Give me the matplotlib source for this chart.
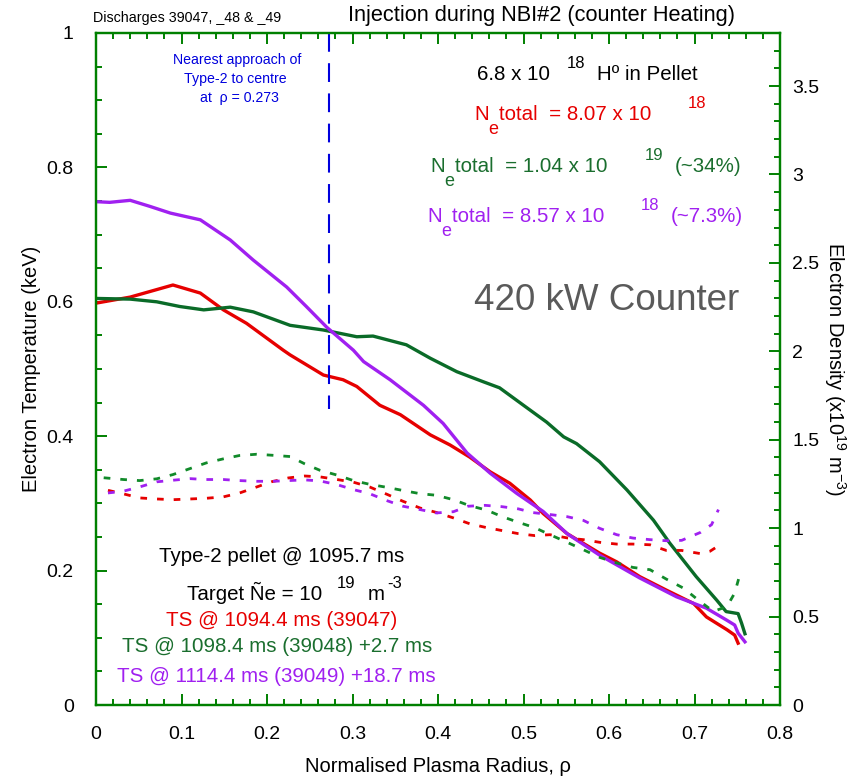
import numpy as np
import matplotlib
matplotlib.use("Agg")
import matplotlib.pyplot as plt
from matplotlib.ticker import MultipleLocator

plt.rcParams['font.family'] = ['Liberation Sans', 'DejaVu Sans']
plt.rcParams['mathtext.fontset'] = 'custom'
plt.rcParams['mathtext.rm'] = 'Liberation Sans'

# Electron temperature profiles (keV) vs normalised radius
rho_t_047 = [0.000, 0.040, 0.090, 0.122, 0.149, 0.176, 0.219, 0.227, 0.266, 0.289, 0.305,
             0.332, 0.356, 0.391, 0.414, 0.437, 0.461, 0.484, 0.508, 0.523, 0.551, 0.589,
             0.609, 0.636, 0.667, 0.699, 0.714, 0.738, 0.747, 0.751]
te_047 = [0.598, 0.607, 0.625, 0.613, 0.588, 0.568, 0.528, 0.521, 0.491, 0.484, 0.474,
          0.446, 0.432, 0.402, 0.387, 0.369, 0.347, 0.330, 0.305, 0.285, 0.255, 0.226,
          0.213, 0.191, 0.171, 0.151, 0.131, 0.112, 0.104, 0.092]

rho_t_048 = [0.000, 0.040, 0.071, 0.098, 0.126, 0.157, 0.184, 0.227, 0.266, 0.305, 0.324,
             0.363, 0.391, 0.422, 0.453, 0.472, 0.500, 0.527, 0.547, 0.562, 0.589, 0.621,
             0.652, 0.671, 0.702, 0.726, 0.737, 0.751, 0.755, 0.759]
te_048 = [0.605, 0.604, 0.600, 0.593, 0.588, 0.592, 0.585, 0.565, 0.558, 0.548, 0.549,
          0.536, 0.516, 0.496, 0.481, 0.472, 0.446, 0.421, 0.399, 0.389, 0.362, 0.320,
          0.275, 0.241, 0.191, 0.156, 0.139, 0.136, 0.122, 0.106]

rho_t_049 = [0.000, 0.016, 0.040, 0.063, 0.087, 0.122, 0.157, 0.184, 0.223, 0.246, 0.270,
             0.301, 0.313, 0.344, 0.383, 0.406, 0.434, 0.461, 0.492, 0.523, 0.551, 0.589,
             0.636, 0.679, 0.714, 0.738, 0.747, 0.751, 0.759]
te_049 = [0.749, 0.748, 0.751, 0.742, 0.732, 0.722, 0.692, 0.662, 0.622, 0.593, 0.562,
          0.528, 0.511, 0.484, 0.446, 0.419, 0.375, 0.345, 0.315, 0.288, 0.255, 0.223,
          0.189, 0.161, 0.144, 0.126, 0.119, 0.107, 0.094]

# Electron density profiles (x1e19 m^-3)
rho_n_047 = [0.014, 0.032, 0.051, 0.071, 0.090, 0.110, 0.129, 0.149, 0.168, 0.188, 0.205,
             0.225, 0.244, 0.262, 0.282, 0.301, 0.320, 0.340, 0.359, 0.379, 0.398, 0.418,
             0.437, 0.455, 0.472, 0.494, 0.513, 0.531, 0.552, 0.570, 0.589, 0.609, 0.628,
             0.648, 0.667, 0.685, 0.707, 0.718, 0.726]
ne_047 = [1.214, 1.194, 1.171, 1.165, 1.161, 1.165, 1.169, 1.177, 1.199, 1.233, 1.262,
          1.284, 1.295, 1.290, 1.275, 1.260, 1.233, 1.192, 1.152, 1.114, 1.089, 1.058,
          1.025, 1.005, 0.989, 0.969, 0.958, 0.963, 0.944, 0.935, 0.920, 0.910, 0.910,
          0.906, 0.874, 0.874, 0.856, 0.869, 0.894]

rho_n_048 = [0.009, 0.032, 0.051, 0.071, 0.090, 0.110, 0.129, 0.149, 0.168, 0.188, 0.207,
             0.227, 0.244, 0.262, 0.282, 0.301, 0.320, 0.340, 0.359, 0.379, 0.398, 0.418,
             0.437, 0.457, 0.474, 0.494, 0.513, 0.531, 0.551, 0.570, 0.589, 0.609, 0.628,
             0.648, 0.667, 0.687, 0.704, 0.722, 0.738, 0.747, 0.753]
ne_048 = [1.285, 1.275, 1.269, 1.279, 1.303, 1.337, 1.369, 1.392, 1.411, 1.418, 1.412,
          1.405, 1.364, 1.327, 1.300, 1.269, 1.248, 1.231, 1.213, 1.195, 1.186, 1.161,
          1.127, 1.102, 1.067, 1.033, 1.003, 0.963, 0.920, 0.878, 0.835, 0.803, 0.778,
          0.765, 0.712, 0.661, 0.595, 0.529, 0.557, 0.633, 0.737]

rho_n_049 = [0.014, 0.032, 0.051, 0.071, 0.090, 0.110, 0.129, 0.149, 0.168, 0.188, 0.207,
             0.225, 0.244, 0.262, 0.282, 0.301, 0.320, 0.340, 0.359, 0.379, 0.398, 0.418,
             0.435, 0.455, 0.474, 0.494, 0.511, 0.531, 0.551, 0.570, 0.589, 0.609, 0.628,
             0.648, 0.667, 0.685, 0.707, 0.720, 0.728]
ne_049 = [1.199, 1.209, 1.233, 1.262, 1.271, 1.280, 1.275, 1.275, 1.269, 1.265, 1.265,
          1.269, 1.273, 1.267, 1.246, 1.218, 1.195, 1.156, 1.124, 1.105, 1.086, 1.093,
          1.124, 1.129, 1.122, 1.109, 1.088, 1.077, 1.065, 1.044, 0.999, 0.963, 0.944,
          0.935, 0.929, 0.931, 0.976, 1.020, 1.105]

rho_pellet = 0.273
te_pellet_end = 0.44

RED = '#e60000'
GREEN = '#0a6b28'
GREEN_D = '#118a2a'
GREEN_T = '#1a6e2e'
PURPLE = '#a020f0'
BLUE = '#0000dd'
AXIS = '#008000'

W, H = 862, 779
fig = plt.figure(figsize=(W / 100, H / 100), dpi=100)
ax = fig.add_axes([96 / W, 1 - 705 / H, 684 / W, 672 / H])
ax2 = ax.twinx()

# temperatures: solid, left axis
ax.plot(rho_t_047, te_047, color=RED, lw=2.4)
ax.plot(rho_t_048, te_048, color=GREEN, lw=2.4)
ax.plot(rho_t_049, te_049, color=PURPLE, lw=2.4)
ax.plot([rho_pellet, rho_pellet], [1.0, te_pellet_end], color=BLUE, lw=1.5, dashes=(9, 5.5))

# densities: dashed, right axis
for r, n, c in [(rho_n_047, ne_047, RED), (rho_n_048, ne_048, GREEN_D), (rho_n_049, ne_049, PURPLE)]:
    ax2.plot(r, n, color=c, lw=2.0, dashes=(2.4, 3.6))

ax.set_xlim(0, 0.8)
ax.set_ylim(0, 1)
ax2.set_ylim(0, 3.8)

ax.xaxis.set_major_locator(MultipleLocator(0.1))
ax.xaxis.set_minor_locator(MultipleLocator(0.02))
ax.yaxis.set_major_locator(MultipleLocator(0.2))
ax.yaxis.set_minor_locator(MultipleLocator(0.05))
ax2.yaxis.set_major_locator(MultipleLocator(0.5))
ax2.yaxis.set_minor_locator(MultipleLocator(0.1))
fmt = plt.FuncFormatter(lambda v, p: '%g' % round(v, 2))
ax.xaxis.set_major_formatter(fmt)
ax.yaxis.set_major_formatter(fmt)
ax2.yaxis.set_major_formatter(fmt)

for a in (ax, ax2):
    for s in a.spines.values():
        s.set_color(AXIS)
        s.set_linewidth(1.6)
ax.tick_params(axis='x', which='both', direction='in', top=True, color=AXIS, width=1.4,
               labelsize=14, pad=15)
ax.tick_params(axis='x', which='major', length=8)
ax.tick_params(axis='x', which='minor', length=4)
ax.tick_params(axis='y', which='both', direction='in', left=True, right=False, color=AXIS,
               width=1.4, labelsize=14, pad=16)
ax.tick_params(axis='y', which='major', length=8)
ax.tick_params(axis='y', which='minor', length=4)
ax2.tick_params(axis='y', which='both', direction='in', color=AXIS, width=1.4,
                labelsize=14, pad=9)
ax2.tick_params(axis='y', which='major', length=8)
ax2.tick_params(axis='y', which='minor', length=4)

ax.set_xlabel(u'Normalised Plasma Radius, \u03c1', fontsize=14.5, labelpad=10)
ax.set_ylabel('Electron Temperature (keV)', fontsize=14.5, labelpad=4)
ax2.set_ylabel(r'Electron Density (x10$^{19}$ m$^{-3}$)', fontsize=14.5, rotation=270,
               labelpad=20)


def put(px, py, s, color='black', size=14.8, ha='left', **kw):
    fig.text(px / W, 1 - py / H, s, color=color, fontsize=size, ha=ha, va='center', **kw)


put(541, 16, 'Injection during NBI#2 (counter Heating)', size=15.7, ha='center')
put(93, 18, 'Discharges 39047, _48 & _49', size=10.3)

put(237, 60, 'Nearest approach of', color=BLUE, size=10.2, ha='center')
put(235, 79, 'Type-2 to centre', color=BLUE, size=10.2, ha='center')
put(239, 98, u'at  \u03c1 = 0.273', color=BLUE, size=10.2, ha='center')

put(477, 75, '6.8 x 10')
put(567, 64, '18', size=12)
put(597, 75, u'H\u00ba in Pellet')

put(474, 115, 'N', color=RED)
put(488, 129, 'e', color=RED, size=13)
put(499, 115, 'total  = 8.07 x 10', color=RED)
put(688, 104, '18', color=RED, size=12)

put(430, 167, 'N', color=GREEN_T)
put(444, 181, 'e', color=GREEN_T, size=13)
put(455, 167, 'total  = 1.04 x 10', color=GREEN_T)
put(645, 156, '19', color=GREEN_T, size=12)
put(675, 167, '(~34%)', color=GREEN_T)

put(427, 217, 'N', color=PURPLE)
put(441, 231, 'e', color=PURPLE, size=13)
put(452, 217, 'total  = 8.57 x 10', color=PURPLE)
put(641, 206, '18', color=PURPLE, size=12)
put(671, 217, '(~7.3%)', color=PURPLE)

put(607, 300, '420 kW Counter', color='#5a5a5a', size=26.5, ha='center')

put(282, 556, 'Type-2 pellet @ 1095.7 ms', ha='center')
put(187, 593, u'Target \u00d1e = 10')
put(337, 584, '19', size=12)
put(368, 595, 'm')
put(387, 584, '-3', size=12)
put(282, 620, 'TS @ 1094.4 ms (39047)', color=RED, ha='center')
put(277, 647, 'TS @ 1098.4 ms (39048) +2.7 ms', color=GREEN_T, ha='center')
put(276, 676, 'TS @ 1114.4 ms (39049) +18.7 ms', color=PURPLE, ha='center')

fig.savefig('out.png', dpi=100)
